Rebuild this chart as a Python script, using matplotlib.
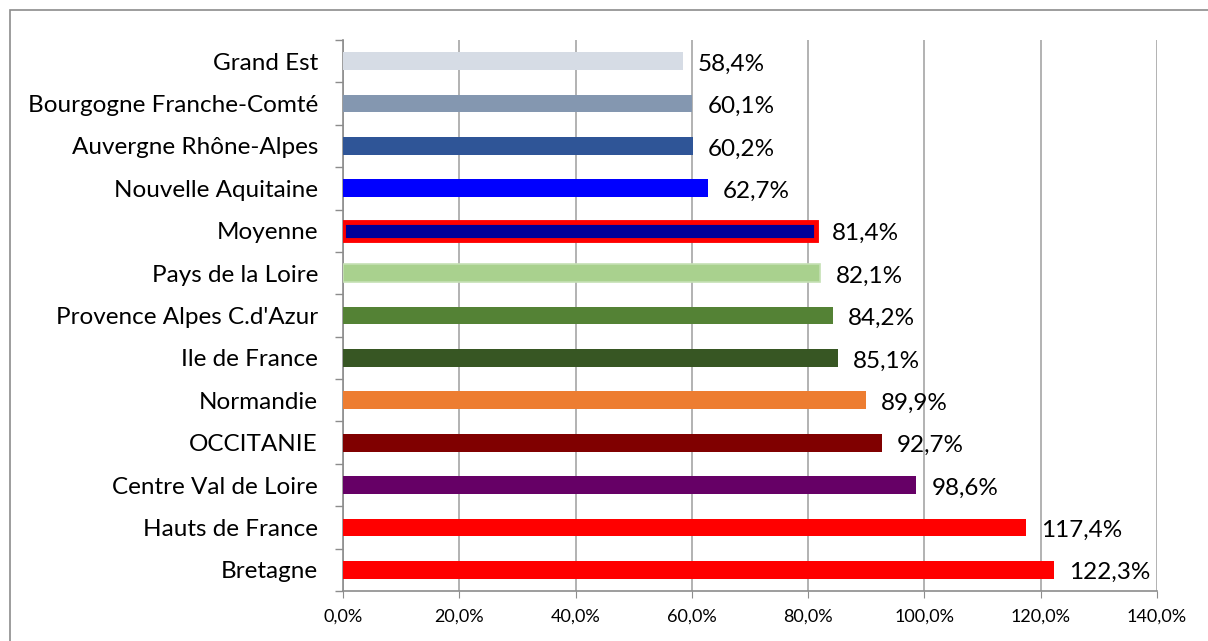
import numpy as np
import matplotlib.pyplot as plt
from matplotlib.patches import Rectangle
from matplotlib.ticker import FuncFormatter, FixedLocator

plt.rcParams['font.family'] = ['Lato', 'DejaVu Sans']

REGIONS = ["Grand Est", "Bourgogne Franche-Comté", "Auvergne Rhône-Alpes",
           "Nouvelle Aquitaine", "Moyenne", "Pays de la Loire",
           "Provence Alpes C.d'Azur", "Ile de France", "Normandie",
           "OCCITANIE", "Centre Val de Loire", "Hauts de France", "Bretagne"]
VALUES = [58.4, 60.1, 60.2, 62.7, 81.4, 82.1, 84.2, 85.1, 89.9, 92.7, 98.6, 117.4, 122.3]
COLORS = ["#D6DCE5", "#8497B0", "#2F5597", "#0000FF", "#000099", "#A9D18E",
          "#548235", "#375623", "#ED7D31", "#800000", "#660066", "#FF0000", "#FF0000"]
EDGES = [None, None, None, None, "#FF0000", "#C5E0B4", None, None, None, None, None, None, None]
XTICKS = [0, 20, 40, 60, 80, 100, 120, 140]

W, H = 1208, 641
fig = plt.figure(figsize=(W / 100, H / 100), dpi=100)
ax = fig.add_axes([343 / W, 1 - 591 / H, (1157 - 343) / W, (591 - 40) / H])

# outer chart border (right and bottom edges are cropped in the original)
fig.patches.append(Rectangle((10 / W, -0.1), 1.2, 1.1 - 10 / H, transform=fig.transFigure,
                             fill=False, edgecolor="#8C8C8C", linewidth=1.2, zorder=0))

y = np.arange(len(REGIONS))
for i, (v, c, e) in enumerate(zip(VALUES, COLORS, EDGES)):
    if e == "#FF0000":
        ax.barh(i, v, height=0.42, color=c, edgecolor=e, linewidth=3.5, zorder=3)
    elif e:
        ax.barh(i, v, height=0.42, color=c, edgecolor=e, linewidth=1.2, zorder=3)
    else:
        ax.barh(i, v, height=0.42, color=c, zorder=3)
    ax.text(v + 2.6, i + 0.07, f"{v:.1f}%".replace(".", ","), va="center", ha="left",
            fontsize=17.5, color="black")

ax.set_xlim(0, 140)
ax.set_ylim(len(REGIONS) - 0.5, -0.5)
ax.set_xticks(XTICKS)
ax.xaxis.set_major_formatter(FuncFormatter(lambda x, p: f"{x:.1f}%".replace(".", ",")))
ax.set_yticks(y)
ax.set_yticklabels(REGIONS, fontsize=17.5)
ax.yaxis.set_minor_locator(FixedLocator(np.arange(-0.5, len(REGIONS), 1)))
ax.tick_params(axis="y", which="major", length=0, pad=18)
ax.tick_params(axis="y", which="minor", length=6, color="#8C8C8C", width=1)
ax.tick_params(axis="x", length=5, color="#8C8C8C", labelsize=13, pad=8)

ax.grid(True, axis="x", color="#A6A6A6", linewidth=1.2, zorder=0)
ax.set_axisbelow(True)
for s in ["top", "right"]:
    ax.spines[s].set_visible(False)
for s in ["left", "bottom"]:
    ax.spines[s].set_color("#8C8C8C")
    ax.spines[s].set_linewidth(1.2)

fig.savefig("out.png", dpi=100)
